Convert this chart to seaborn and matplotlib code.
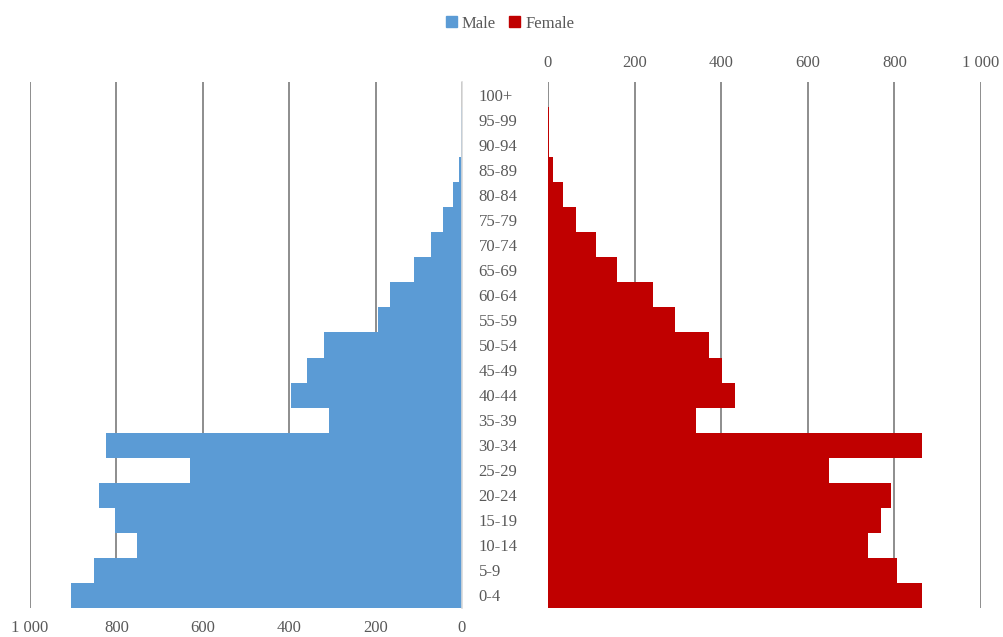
import pandas as pd
import matplotlib.pyplot as plt
import seaborn as sns
from matplotlib.patches import Patch

# age groups, bottom to top
ages = ["0-4", "5-9", "10-14", "15-19", "20-24", "25-29", "30-34", "35-39",
        "40-44", "45-49", "50-54", "55-59", "60-64", "65-69", "70-74",
        "75-79", "80-84", "85-89", "90-94", "95-99", "100+"]
male = [906, 852, 753, 804, 841, 629, 824, 308, 396, 359, 319, 195, 167,
        110, 72, 44, 21, 7, 3, 2, 1]
female = [864, 806, 739, 769, 793, 650, 864, 341, 433, 401, 371, 293, 242,
          160, 110, 65, 35, 12, 3, 2, 1]
ticks = [0, 200, 400, 600, 800, 1000]
tick_labels = ["0", "200", "400", "600", "800", "1 000"]

df = pd.DataFrame({"age": ages, "Male": male, "Female": female})
order = ages[::-1]

sns.set_style("white")
plt.rcParams["font.family"] = ["Liberation Serif", "DejaVu Serif"]
text_col = "#595959"
grid_col = "#7a7a7a"
blue = "#5B9BD5"
red = "#C00000"

fig = plt.figure(figsize=(10.04, 6.37), dpi=100)
ax_l = fig.add_axes([30 / 1004, 1 - 608 / 637, 432 / 1004, 526 / 637])
ax_r = fig.add_axes([548 / 1004, 1 - 608 / 637, 433 / 1004, 526 / 637])

sns.barplot(data=df, x="Male", y="age", order=order, orient="h", ax=ax_l,
            color=blue, width=1.0, linewidth=0, saturation=1)
sns.barplot(data=df, x="Female", y="age", order=order, orient="h", ax=ax_r,
            color=red, width=1.0, linewidth=0, saturation=1)

# male side: 1000 on the left, 0 at the centre
ax_l.set_xlim(1000, 0)
ax_r.set_xlim(0, 1000)
for ax in (ax_l, ax_r):
    ax.set_ylim(20.5, -0.5)
    ax.set_xticks(ticks)
    ax.set_xticklabels(tick_labels)
    ax.set_xlabel("")
    ax.set_ylabel("")
    ax.set_axisbelow(True)
    ax.grid(axis="x", color=grid_col, linewidth=1.2)
    for s in ax.spines.values():
        s.set_visible(False)
    ax.tick_params(axis="x", length=0, labelsize=12, colors=text_col)

ax_l.tick_params(axis="x", pad=9)
ax_l.set_yticks([])
ax_l.spines["right"].set_visible(True)
ax_l.spines["right"].set_color("#d9d9d9")
ax_l.spines["right"].set_linewidth(1.2)

ax_r.xaxis.tick_top()
ax_r.tick_params(axis="x", pad=8)
ax_r.tick_params(axis="y", length=0, pad=50, labelsize=12, colors=text_col)
ax_r.set_yticks(range(len(order)))
ax_r.set_yticklabels(order)
for t in ax_r.get_yticklabels():
    t.set_ha("left")

handles = [Patch(color=blue, label="Male"), Patch(color=red, label="Female")]
fig.legend(handles=handles, loc="upper center", bbox_to_anchor=(0.508, 0.999),
           ncol=2, frameon=False, fontsize=12, handlelength=0.65,
           handleheight=0.65, handletextpad=0.3, columnspacing=0.8,
           labelcolor=text_col)

fig.savefig("out.png", dpi=100)
